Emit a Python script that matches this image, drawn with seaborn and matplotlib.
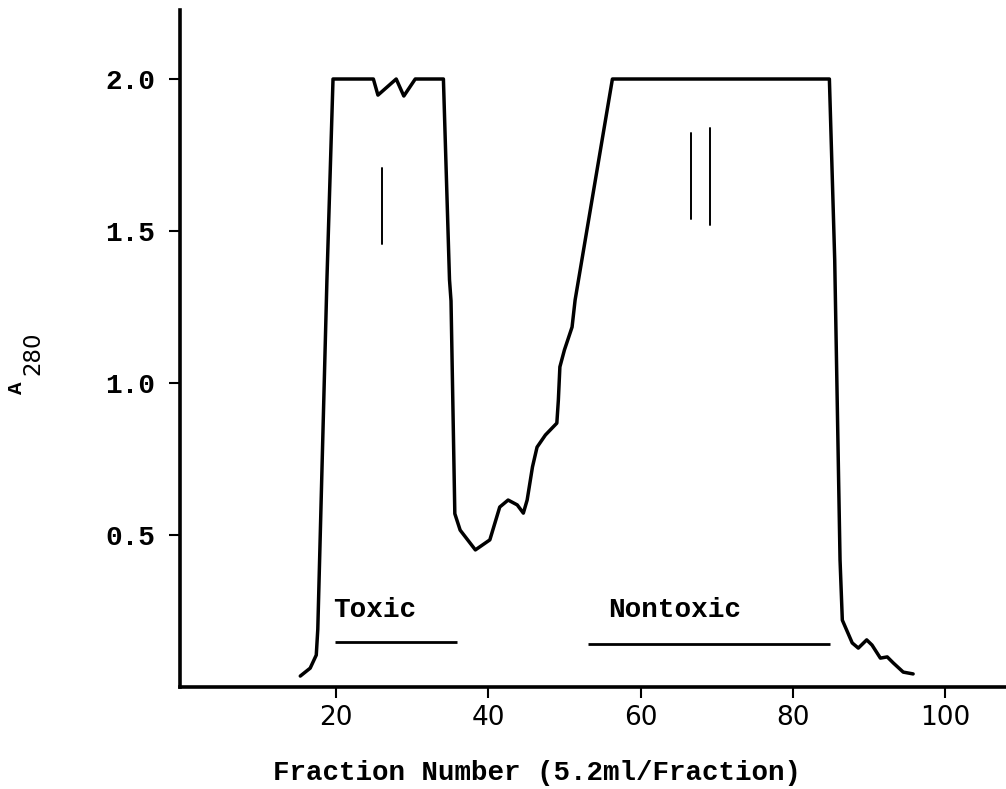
import matplotlib
matplotlib.use("Agg")
import matplotlib.pyplot as plt
import seaborn as sns
import pandas as pd

# ---- data ----
fraction = [15.3, 16.6, 17.4, 17.6, 18.8, 19.6, 24.9, 25.5, 27.9, 28.9, 30.4, 34.1,
            34.9, 35.1, 35.6, 36.3, 38.3, 40.2, 41.5, 42.6, 43.8, 44.6, 45.1, 45.8,
            46.4, 47.5, 49.0, 49.2, 49.4, 50.0, 51.0, 51.4, 56.3, 84.8, 85.5, 86.2,
            86.5, 87.8, 88.6, 89.7, 90.4, 91.5, 92.4, 93.2, 94.5, 95.8]
a280 = [0.036, 0.062, 0.105, 0.19, 1.34, 2.0, 2.0, 1.947, 2.0, 1.944, 2.0, 2.0,
        1.34, 1.27, 0.57, 0.516, 0.451, 0.484, 0.592, 0.615, 0.599, 0.572, 0.615, 0.724,
        0.789, 0.829, 0.868, 0.944, 1.053, 1.109, 1.184, 1.273, 2.0, 2.0, 1.405, 0.418,
        0.22, 0.145, 0.128, 0.155, 0.138, 0.095, 0.099, 0.079, 0.049, 0.043]

pool_names = ["Toxic", "Nontoxic"]
pool_start = [19.9, 53.1]
pool_end = [35.9, 84.9]
pool_level = [0.148, 0.141]
pool_label_x = [19.6, 55.7]
pool_label_y = 0.253

marker_x = [26.0, 66.6, 69.1]
marker_lo = [1.457, 1.539, 1.520]
marker_hi = [1.707, 1.822, 1.839]

xticks = [20, 40, 60, 80, 100]
yticks = [0.5, 1.0, 1.5, 2.0]
ytick_labels = ["0.5", "1.0", "1.5", "2.0"]

xlabel = "Fraction Number (5.2ml/Fraction)"

# ---- drawing ----
sns.set_style("ticks")
plt.rcParams["font.family"] = ["Liberation Mono", "DejaVu Sans"]
plt.rcParams["text.color"] = "black"
plt.rcParams["axes.labelcolor"] = "black"
plt.rcParams["xtick.color"] = "black"
plt.rcParams["ytick.color"] = "black"

fig = plt.figure(figsize=(10.06, 7.89), dpi=100)
ax = fig.add_axes([180 / 1006, 102 / 789, 1 - 180 / 1006, (687 - 10) / 789])

df = pd.DataFrame({"fraction": fraction, "a280": a280})
sns.lineplot(data=df, x="fraction", y="a280", sort=False, color="black",
             linewidth=2.5, ax=ax)

for name, s, e, lv, lx in zip(pool_names, pool_start, pool_end, pool_level, pool_label_x):
    ax.plot([s, e], [lv, lv], color="black", linewidth=2.0, solid_capstyle="butt")
    ax.text(lx, pool_label_y, name, fontsize=20, fontweight="bold",
            ha="left", va="center", color="black")

for mx, lo, hi in zip(marker_x, marker_lo, marker_hi):
    ax.plot([mx, mx], [lo, hi], color="black", linewidth=1.4)

ax.set_xlim(-0.5, 108)
ax.set_ylim(0, 2.227)
ax.set_xticks(xticks)
ax.set_xticklabels([str(t) for t in xticks], family="DejaVu Sans", fontsize=19,
                   color="black")
ax.set_yticks(yticks)
ax.set_yticklabels(ytick_labels, fontsize=20, fontweight="bold", color="black")
ax.tick_params(axis="both", direction="out", length=8, width=1.5, colors="black")
ax.tick_params(axis="x", pad=5)
ax.tick_params(axis="y", pad=10)

for side in ["top", "right"]:
    ax.spines[side].set_visible(False)
for side in ["left", "bottom"]:
    ax.spines[side].set_linewidth(2.6)
    ax.spines[side].set_color("black")

ax.set_xlabel("")
ax.set_ylabel("")
# y-axis label: "A" with subscript "280"
fig.text(17 / 1006, 1 - 388 / 789, "A", rotation=90, fontsize=15,
         fontweight="bold", ha="center", va="center", color="black")
fig.text(33 / 1006, 1 - 353 / 789, "280", rotation=90, fontsize=16.5,
         family="DejaVu Sans", ha="center", va="center", color="black")
fig.text(537 / 1006, 1 - 773 / 789, xlabel, fontsize=19.8, fontweight="bold",
         ha="center", va="center", color="black")

fig.savefig("out.png", dpi=100, facecolor="white")
